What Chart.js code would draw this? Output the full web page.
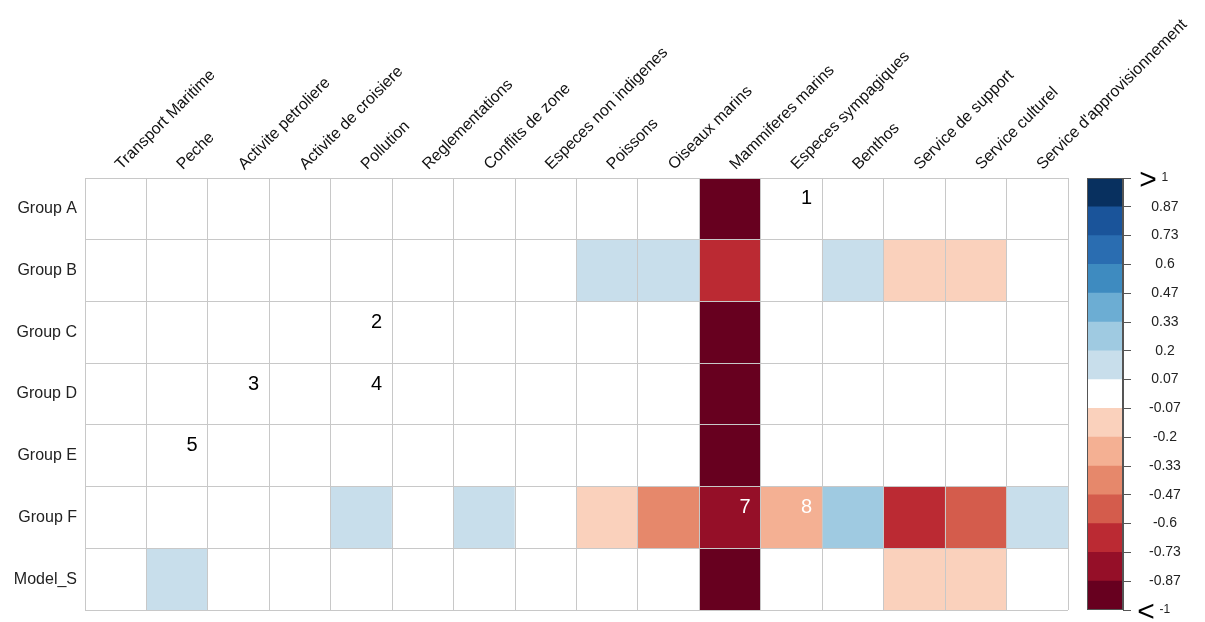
<!DOCTYPE html>
<html>
<head>
<meta charset="utf-8">
<script src="https://cdn.jsdelivr.net/npm/chart.js@4"></script>
<style>
  body { margin: 0; background: #fff; }
  #wrap { position: relative; width: 1205px; height: 622px; }
  #heat { position: absolute; left: 0; top: 0; }
  #bar { position: absolute; left: 1075px; top: 0; }
</style>
</head>
<body>
<div id="wrap">
  <canvas id="heat" width="1205" height="622"></canvas>
  <canvas id="bar" width="130" height="622"></canvas>
</div>
<script>
const rowLabels = ['Group A', 'Group B', 'Group C', 'Group D', 'Group E', 'Group F', 'Model_S'];
const colLabels = ['Transport Maritime', 'Peche', 'Activite petroliere', 'Activite de croisiere', 'Pollution',
    'Reglementations', 'Conflits de zone', 'Especes non indigenes', 'Poissons', 'Oiseaux marins',
    'Mammiferes marins', 'Especes sympagiques', 'Benthos', 'Service de support', 'Service culturel',
    "Service d'approvisionnement"];

const groupA = [0, 0, 0, 0, 0, 0, 0, 0, 0, 0, -1, 0, 0, 0, 0, 0];
const groupB = [0, 0, 0, 0, 0, 0, 0, 0, 0.13, 0.13, -0.67, 0, 0.13, -0.13, -0.13, 0];
const groupC = [0, 0, 0, 0, 0, 0, 0, 0, 0, 0, -1, 0, 0, 0, 0, 0];
const groupD = [0, 0, 0, 0, 0, 0, 0, 0, 0, 0, -1, 0, 0, 0, 0, 0];
const groupE = [0, 0, 0, 0, 0, 0, 0, 0, 0, 0, -1, 0, 0, 0, 0, 0];
const groupF = [0, 0, 0, 0, 0.13, 0, 0.13, 0, -0.13, -0.4, -0.8, -0.27, 0.27, -0.67, -0.53, 0.13];
const modelS = [0, 0.13, 0, 0, 0, 0, 0, 0, 0, 0, -1, 0, 0, -0.13, -0.13, 0];
const rows = [groupA, groupB, groupC, groupD, groupE, groupF, modelS];

// numbers written over the grid
const noteText = ['1', '2', '3', '4', '5', '7', '8'];
const noteCol = [11, 4, 2, 4, 1, 10, 11];
const noteRow = [0, 2, 3, 3, 4, 5, 5];

// colour key
const keyLabels = ['-1', '-0.87', '-0.73', '-0.6', '-0.47', '-0.33', '-0.2', '-0.07', '0.07', '0.2', '0.33', '0.47', '0.6', '0.73', '0.87', '1'];
const palette = ['#67001F', '#950F28', '#BB2A33', '#D45C4C', '#E6886B', '#F4B093', '#FAD1BC', '#FFFFFF',
    '#C8DEEB', '#9FCAE1', '#6CADD3', '#3E8BC0', '#2A6DB1', '#1A549A', '#08305F'];
const keyEdges = keyLabels.map((s, i) => -1 + i * 2 / 15);

const FONT = "'Liberation Sans', Arial, sans-serif";
const GRID = '#c8c8c8';

function colorFor(v) {
    let i = Math.floor((v + 1) / (2 / 15) + 1e-9);
    i = Math.max(0, Math.min(14, i));
    return palette[i];
}

const heatDatasets = [];
for (let r = rows.length - 1; r >= 0; r--) {
    heatDatasets.push({
        label: rowLabels[r],
        data: colLabels.map(() => 1),
        backgroundColor: rows[r].map(colorFor),
        borderWidth: 0,
        barPercentage: 1,
        categoryPercentage: 1
    });
}

const notesPlugin = {
    id: 'notes',
    afterDraw(chart) {
        const ctx = chart.ctx;
        const xs = chart.scales.x, ys = chart.scales.yl;
        ctx.save();
        ctx.font = '20px ' + FONT;
        ctx.textAlign = 'center';
        ctx.textBaseline = 'middle';
        noteText.forEach((t, i) => {
            const v = rows[noteRow[i]][noteCol[i]];
            ctx.fillStyle = v < -0.2 ? '#ffffff' : '#000000';
            ctx.fillText(t, xs.getPixelForValue(noteCol[i]) + 15, ys.getPixelForValue(noteRow[i]) - 10);
        });
        ctx.restore();
    }
};

new Chart(document.getElementById('heat'), {
    type: 'bar',
    data: { labels: colLabels, datasets: heatDatasets },
    options: {
        responsive: false,
        animation: false,
        layout: { padding: { left: 0, top: 0, right: 137, bottom: 12 } },
        plugins: { legend: { display: false }, tooltip: { enabled: false } },
        scales: {
            x: {
                type: 'category',
                position: 'top',
                stacked: true,
                offset: true,
                grid: { offset: true, color: GRID, drawTicks: false, z: 1 },
                border: { color: GRID, z: 1 },
                ticks: {
                    autoSkip: false, minRotation: 45, maxRotation: 45, padding: 4, labelOffset: 16,
                    color: '#111', font: { family: FONT, size: 16 }
                },
                afterFit(s) { s.height = 178; s.paddingLeft = 0; s.paddingRight = 0; }
            },
            y: { type: 'linear', stacked: true, min: 0, max: 7, display: false },
            yl: {
                type: 'category',
                labels: rowLabels,
                position: 'left',
                offset: true,
                grid: { offset: true, color: GRID, drawTicks: false, z: 1 },
                border: { color: GRID, z: 1 },
                ticks: { padding: 8, color: '#222', font: { family: FONT, size: 16 } },
                afterFit(s) { s.width = 85; s.paddingTop = 0; s.paddingBottom = 0; }
            }
        }
    },
    plugins: [notesPlugin]
});

const keyDatasets = palette.map((c, i) => ({
    data: [[keyEdges[i], keyEdges[i + 1]]],
    backgroundColor: c,
    borderWidth: 0,
    grouped: false,
    barPercentage: 1,
    categoryPercentage: 1
}));

const arrowPlugin = {
    id: 'arrows',
    afterDraw(chart) {
        const ctx = chart.ctx;
        const ys = chart.scales.y;
        const a = chart.chartArea;
        ctx.save();
        ctx.strokeStyle = '#555';
        ctx.lineWidth = 1;
        ctx.strokeRect(a.left + 0.5, a.top + 0.5, a.right - a.left - 1, a.bottom - a.top - 1);
        ctx.font = '30px ' + FONT;
        ctx.fillStyle = '#000';
        ctx.textAlign = 'center';
        ctx.textBaseline = 'middle';
        ctx.fillText('>', ys.left + 25, ys.getPixelForValue(1) + 3);
        ctx.fillText('<', ys.left + 23, ys.getPixelForValue(-1) + 3);
        ctx.restore();
    }
};

new Chart(document.getElementById('bar'), {
    type: 'bar',
    data: { labels: [''], datasets: keyDatasets },
    options: {
        responsive: false,
        animation: false,
        layout: { padding: { left: 12, top: 178, right: 0, bottom: 12 } },
        plugins: { legend: { display: false }, tooltip: { enabled: false } },
        scales: {
            x: { display: false, offset: true },
            y: {
                position: 'right',
                min: -1,
                max: 1,
                afterBuildTicks(s) { s.ticks = keyEdges.map(v => ({ value: v })); },
                grid: { drawOnChartArea: false, tickLength: 8, color: '#555' },
                border: { color: '#555' },
                ticks: {
                    crossAlign: 'center', padding: 18, color: '#222',
                    font: c => ({ family: FONT, size: (c.index === 0 || c.index === keyLabels.length - 1) ? 12 : 14 }),
                    callback: (v, i) => keyLabels[i]
                },
                afterFit(s) { s.width = 82; s.paddingTop = 0; s.paddingBottom = 0; }
            }
        }
    },
    plugins: [arrowPlugin]
});
</script>
</body>
</html>
